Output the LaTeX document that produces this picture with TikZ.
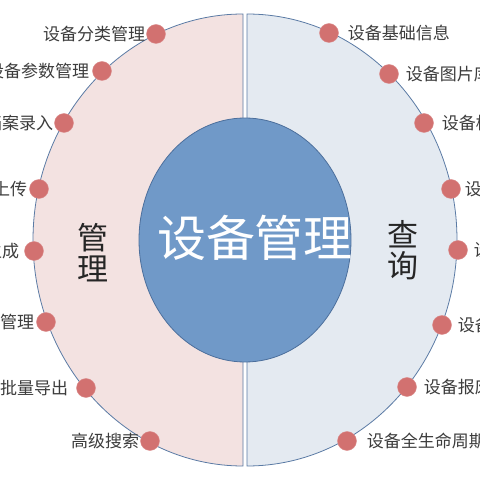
\documentclass[tikz,border=0pt]{standalone}
\usepackage{fontspec}
\usetikzlibrary{shapes.geometric}
\setmainfont{Noto Sans CJK SC}
\definecolor{rim}{HTML}{5B7BA5}
\definecolor{pinkfill}{HTML}{F3E2E1}
\definecolor{bluefill}{HTML}{E4EAF1}
\definecolor{corefill}{HTML}{7099C8}
\definecolor{coreline}{HTML}{4C6F9C}
\definecolor{dotfill}{HTML}{D27170}
\definecolor{txt}{HTML}{3C3C3C}
\tikzset{
  half/.style={draw=rim, line width=0.8pt},
  dotmark/.style={circle, fill=dotfill, draw=dotfill!80!white, line width=0.4pt, minimum size=19pt, inner sep=0pt},
  lbl/.style={font=\fontsize{17}{17}\selectfont, text=txt, inner sep=0pt},
  side/.style={font=\fontsize{31}{33}\selectfont, text=black!85, align=center, inner sep=0pt},
}
\begin{document}
\begin{tikzpicture}[x=1pt,y=1pt]
\useasboundingbox (0,0) rectangle (480,480);
\clip (0,0) rectangle (480,480);
\fill[white] (0,0) rectangle (480,480);
% halves
\draw[half, fill=pinkfill] (243,466) arc[start angle=90, end angle=270, x radius=210, y radius=226] -- cycle;
\draw[half, fill=bluefill] (247,466) arc[start angle=90, end angle=-90, x radius=210, y radius=226] -- cycle;
% core
\node[ellipse, draw=coreline, line width=0.8pt, fill=corefill, minimum width=212pt, minimum height=244pt, inner sep=0pt] (core) at (245,240) {};
\node[font=\fontsize{49}{49}\selectfont, text=white, inner sep=0pt] (title) at (255,242) {设备管理};
\node[side] (mgmt) at (93,227) {管\\[-2pt]理};
\node[side] (query) at (403,230) {查\\[-2pt]询};
% left dots
\node[dotmark] (l1) at (156,446) {};
\node[dotmark] (l2) at (102,409) {};
\node[dotmark] (l3) at (64,357) {};
\node[dotmark] (l4) at (39,291) {};
\node[dotmark] (l5) at (34,229) {};
\node[dotmark] (l6) at (46,158) {};
\node[dotmark] (l7) at (86,92) {};
\node[dotmark] (l8) at (150,39) {};
% right dots
\node[dotmark] (r1) at (329,447) {};
\node[dotmark] (r2) at (389,406) {};
\node[dotmark] (r3) at (424,357) {};
\node[dotmark] (r4) at (451,291) {};
\node[dotmark] (r5) at (458,230) {};
\node[dotmark] (r6) at (442,155) {};
\node[dotmark] (r7) at (407,93) {};
\node[dotmark] (r8) at (347,39) {};
% left labels
\node[lbl, anchor=east] (tl1) at ([xshift=-1pt]l1.west) {设备分类管理};
\node[lbl, anchor=east] (tl2) at ([xshift=-3pt]l2.west) {设备参数管理};
\node[lbl, anchor=east] (tl3) at ([xshift=-1pt]l3.west) {设备档案录入};
\node[lbl, anchor=east] (tl4) at ([xshift=-2pt]l4.west) {设备图片上传};
\node[lbl, anchor=east] (tl5) at ([xshift=-5pt]l5.west) {设备二维码生成};
\node[lbl, anchor=east] (tl6) at ([xshift=-2pt]l6.west) {设备维修管理};
\node[lbl, anchor=east] (tl7) at ([xshift=-8pt]l7.west) {设备批量导出};
\node[lbl, anchor=east] (tl8) at ([xshift=-1pt]l8.west) {高级搜索};
% right labels
\node[lbl, anchor=west] (tr1) at ([xshift=9pt]r1.east) {设备基础信息};
\node[lbl, anchor=west] (tr2) at ([xshift=7pt]r2.east) {设备图片库};
\node[lbl, anchor=west] (tr3) at ([xshift=8pt]r3.east) {设备档案查询};
\node[lbl, anchor=west] (tr4) at ([xshift=4pt]r4.east) {设备状态查询};
\node[lbl, anchor=west] (tr5) at ([xshift=6pt]r5.east) {设备位置查询};
\node[lbl, anchor=west] (tr6) at ([xshift=6pt]r6.east) {设备维修记录};
\node[lbl, anchor=west] (tr7) at ([xshift=7pt]r7.east) {设备报废记录};
\node[lbl, anchor=west] (tr8) at ([xshift=10pt]r8.east) {设备全生命周期};
\end{tikzpicture}
\end{document}
